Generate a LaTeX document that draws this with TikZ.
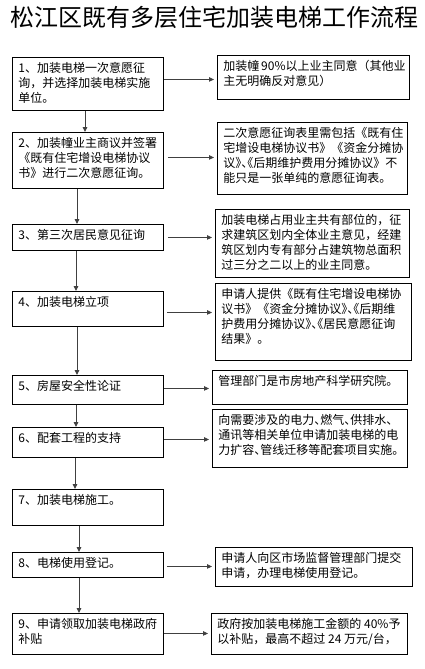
\documentclass[tikz,border=0pt]{standalone}
\usepackage{fontspec}
\setmainfont{Noto Sans CJK SC}
\usetikzlibrary{arrows.meta, calc}

% half-width punctuation
\newcommand{\hc}[1]{\makebox[0.5em][l]{#1}}
\newcommand{\ho}[1]{\makebox[0.5em][r]{#1}}
% name, x, y, width, height, text
\newcommand{\flowbox}[6]{%
  \node[box] (#1) at (#2,#3) {\parbox[c][\dimexpr #5pt-9pt\relax][t]{\dimexpr #4pt-12pt\relax}{#6}};}

\begin{document}
\begin{tikzpicture}[x=1pt, y=-1pt,
  box/.style={draw, line width=0.9pt, anchor=north west, inner xsep=6pt, inner ysep=4.5pt,
    font=\fontsize{12}{15}\selectfont},
  flow/.style={draw=black!75, line width=0.9pt, -{Triangle[length=5pt, width=4.5pt]}}]
  \path[use as bounding box, fill=white] (0,0) rectangle (424,669);

  \node[anchor=west, inner sep=0pt, font=\fontsize{24}{24}\selectfont] (title) at (10,17)
    {松江区既有多层住宅加装电梯工作流程};

  % steps
  \flowbox{l1}{12}{57}{151}{53}{1、加装电梯一次意愿征\\询，并选择加装电梯实施\\单位。}
  \flowbox{l2}{12}{132}{151}{56}{2、加装幢业主商议并签署\\《既有住宅增设电梯协议\\书》进行二次意愿征询。}
  \flowbox{l3}{12}{224}{151}{26}{3、第三次居民意见征询}
  \flowbox{l4}{12}{291}{151}{35}{4、加装电梯立项}
  \flowbox{l5}{12}{375}{151}{29}{5、房屋安全性论证}
  \flowbox{l6}{12}{427}{151}{30}{6、配套工程的支持}
  \flowbox{l7}{12}{489}{151}{36}{7、加装电梯施工。}
  \flowbox{l8}{12}{552}{151}{25}{8、电梯使用登记。}
  \flowbox{l9}{12}{613}{151}{41}{9、申请领取加装电梯政府\\补贴}

  % notes
  \flowbox{r1}{217}{55}{192}{44}{加装幢~90\%以上业主同意（其他业\\主无明确反对意见）}
  \flowbox{r2}{217}{122}{190}{72}{二次意愿征询表里需包括《既有住\\宅增设电梯协议书》《资金分摊协\\议\hc{》}\hc{、}\ho{《}后期维护费用分摊协议》不\\能只是一张单纯的意愿征询表。}
  \flowbox{r3}{215}{209}{194}{68}{加装电梯占用业主共有部位的，征\\求建筑区划内全体业主意见，经建\\筑区划内专有部分占建筑物总面积\\过三分之二以上的业主同意。}
  \flowbox{r4}{215}{283}{196}{77}{申请人提供《既有住宅增设电梯协\\议书》《资金分摊协议\hc{》}\hc{、}\ho{《}后期维\\护费用分摊协议\hc{》}\hc{、}\ho{《}居民意愿征询\\结果》。}
  \flowbox{r5}{212}{370}{195}{34}{管理部门是市房地产科学研究院。}
  \flowbox{r6}{212}{409}{195}{58}{向需要涉及的电力\hc{、}燃气\hc{、}供排水\hc{、}\\通讯等相关单位申请加装电梯的电\\力扩容\hc{、}管线迁移等配套项目实施\hc{。}}
  \flowbox{r8}{215}{547}{197}{39}{申请人向区市场监督管理部门提交\\申请，办理电梯使用登记。}
  \flowbox{r9}{211}{613}{196}{41}{政府按加装电梯施工金额的~40\%予\\以补贴，最高不超过~24~万元/台，}

  % down the steps
  \foreach \a/\b/\x in {l1/l2/73, l2/l3/65, l3/l4/64, l4/l5/65, l5/l6/64, l6/l7/63, l7/l8/67, l8/l9/67}
    \draw[flow] ([xshift=\x pt]\a.south west) -- ([xshift=\x pt]\b.north west);

  % out to the notes
  \foreach \n/\s/\dy in {1/0/-4.5, 2/4/-3, 3/4/0, 4/3/3.5, 5/0/-1.5, 6/0/-3, 8/3/1.5, 9/0/-0.5}
    \draw[flow, shorten >=3pt] ($(l\n.east)+(\s,\dy)$) -- ($(r\n.west |- l\n.east)+(0,\dy)$);
\end{tikzpicture}
\end{document}
